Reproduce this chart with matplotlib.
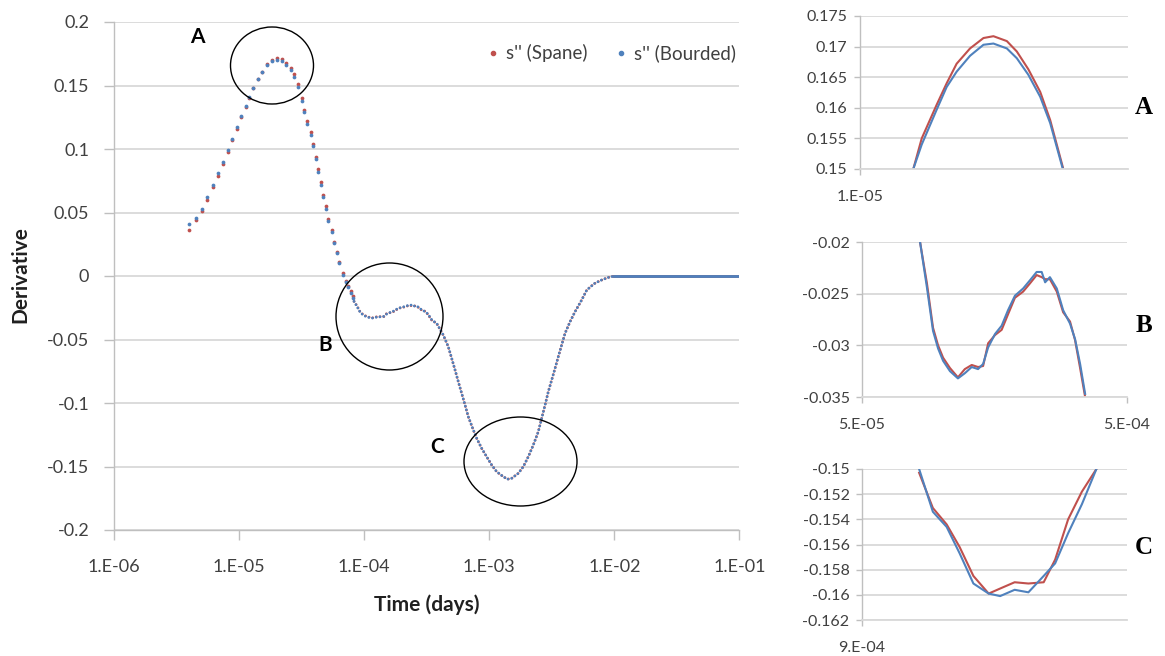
import matplotlib
matplotlib.use("Agg")
import matplotlib.pyplot as plt
from matplotlib.patches import Ellipse
from matplotlib.lines import Line2D
from matplotlib.ticker import FixedLocator, NullLocator

plt.rcParams['font.family'] = ['Lato', 'DejaVu Sans']

RED = '#C0504D'
BLUE = '#4F81BD'
GRID = '#D9D9D9'
AXIS = '#BFBFBF'
TEXT = '#404040'

# ---- main chart data (time given as log10 of days) ----
# early part: separate samples, drawn as dots
early_logt = [-5.40, -5.35, -5.30, -5.26, -5.21, -5.17, -5.13, -5.09, -5.06, -5.02,
              -4.99, -4.95, -4.92, -4.89, -4.85, -4.82, -4.78, -4.74, -4.70, -4.66,
              -4.63, -4.59, -4.56, -4.53, -4.50, -4.48, -4.46, -4.43, -4.41, -4.39,
              -4.37, -4.35, -4.33, -4.31, -4.29, -4.26, -4.24, -4.22, -4.20, -4.17,
              -4.15, -4.13, -4.11, -4.09]
early_bourdet = [0.041, 0.046, 0.053, 0.062, 0.072, 0.081, 0.090, 0.099, 0.108, 0.117,
                 0.126, 0.134, 0.141, 0.148, 0.155, 0.161, 0.166, 0.169, 0.170, 0.169,
                 0.166, 0.162, 0.157, 0.149, 0.138, 0.129, 0.120, 0.111, 0.102, 0.092,
                 0.082, 0.072, 0.062, 0.053, 0.043, 0.035, 0.026, 0.018, 0.010, 0.001,
                 -0.005, -0.009, -0.013, -0.017]
early_spane = [0.036, 0.044, 0.051, 0.060, 0.070, 0.079, 0.088, 0.098, 0.107, 0.116,
               0.125, 0.133, 0.140, 0.148, 0.155, 0.161, 0.167, 0.170, 0.172, 0.171,
               0.168, 0.164, 0.159, 0.151, 0.140, 0.131, 0.122, 0.113, 0.104, 0.094,
               0.084, 0.074, 0.064, 0.055, 0.045, 0.036, 0.027, 0.019, 0.011, 0.002,
               -0.004, -0.008, -0.012, -0.016]

# zone B (also used for the B inset)
b_logt = [-4.082, -4.056, -4.033, -4.014, -3.995, -3.969, -3.939, -3.913, -3.887, -3.863,
          -3.844, -3.825, -3.799, -3.774, -3.750, -3.724, -3.693, -3.667, -3.642, -3.623,
          -3.610, -3.592, -3.566, -3.542, -3.516, -3.497, -3.478, -3.459]
b_bourdet = [-0.0200, -0.0244, -0.0286, -0.0303, -0.0315, -0.0325, -0.0332, -0.0327, -0.0321, -0.0323,
             -0.0318, -0.0302, -0.0289, -0.0281, -0.0266, -0.0252, -0.0245, -0.0237, -0.0229, -0.0229,
             -0.0239, -0.0234, -0.0245, -0.0266, -0.0279, -0.0294, -0.0318, -0.0347]
b_spane = [-0.0200, -0.0240, -0.0283, -0.0300, -0.0312, -0.0322, -0.0331, -0.0323, -0.0319, -0.0321,
           -0.0320, -0.0298, -0.0290, -0.0285, -0.0270, -0.0254, -0.0248, -0.0240, -0.0232, -0.0234,
           -0.0236, -0.0236, -0.0248, -0.0268, -0.0277, -0.0295, -0.0322, -0.0350]

# descent to C and recovery (both methods overlap here)
mid_logt = [-3.421, -3.368, -3.328, -3.301, -3.274, -3.248, -3.221, -3.194, -3.168, -3.133,
            -3.101, -3.061, -3.021, -2.981, -2.941, -2.888, -2.855, -2.821, -2.768, -2.728,
            -2.688, -2.648, -2.608, -2.581, -2.554, -2.528, -2.501, -2.474, -2.448, -2.421,
            -2.394, -2.354, -2.314, -2.261, -2.220, -2.160, -2.110, -2.050, -2.000]
mid_value = [-0.0373, -0.0465, -0.0557, -0.0648, -0.0740, -0.0832, -0.0924, -0.1016, -0.1108, -0.1199,
             -0.1278, -0.1357, -0.1423, -0.1488, -0.1541, -0.1580, -0.1600, -0.1593, -0.1554, -0.1501,
             -0.1423, -0.1331, -0.1226, -0.1121, -0.1016, -0.0911, -0.0819, -0.0727, -0.0635, -0.0543,
             -0.0451, -0.0360, -0.0281, -0.0189, -0.0110, -0.0060, -0.0035, -0.0012, 0.0]

# late time: flat at zero
tail_logt = [-2.0, -1.9, -1.8, -1.7, -1.6, -1.5, -1.4, -1.3, -1.2, -1.1, -1.0]
tail_value = [0.0, 0.0, 0.0, 0.0, 0.0, 0.0, 0.0, 0.0, 0.0, 0.0, 0.0]

main_xticks = [1e-6, 1e-5, 1e-4, 1e-3, 1e-2, 1e-1]
main_xlabels = ['1.E-06', '1.E-05', '1.E-04', '1.E-03', '1.E-02', '1.E-01']
main_yticks = [-0.2, -0.15, -0.1, -0.05, 0, 0.05, 0.1, 0.15, 0.2]
main_ylabels = ['-0.2', '-0.15', '-0.1', '-0.05', '0', '0.05', '0.1', '0.15', '0.2']

# ---- zoom panels ----
a_logt = [-4.861, -4.839, -4.800, -4.774, -4.748, -4.713, -4.678, -4.652, -4.617, -4.591,
          -4.561, -4.530, -4.504, -4.471]
a_bourdet = [0.1500, 0.1540, 0.1597, 0.1634, 0.1659, 0.1685, 0.1703, 0.1705, 0.1697, 0.1681,
             0.1654, 0.1618, 0.1575, 0.1500]
a_spane = [0.1500, 0.1550, 0.1605, 0.1640, 0.1672, 0.1697, 0.1714, 0.1717, 0.1709, 0.1692,
           0.1663, 0.1626, 0.1580, 0.1503]

c_logt = [-2.971, -2.953, -2.935, -2.918, -2.900, -2.880, -2.865, -2.846, -2.828, -2.808,
          -2.793, -2.776, -2.758, -2.739]
c_bourdet = [-0.1500, -0.1534, -0.1546, -0.1567, -0.1591, -0.1599, -0.1601, -0.1596, -0.1598, -0.1585,
             -0.1575, -0.1551, -0.1528, -0.1500]
c_spane = [-0.1503, -0.1531, -0.1544, -0.1562, -0.1585, -0.1599, -0.1595, -0.1590, -0.1591, -0.1590,
           -0.1572, -0.1540, -0.1518, -0.1500]

a_yticks = [0.15, 0.155, 0.16, 0.165, 0.17, 0.175]
a_ylabels = ['0.15', '0.155', '0.16', '0.165', '0.17', '0.175']
b_yticks = [-0.035, -0.03, -0.025, -0.02]
b_ylabels = ['-0.035', '-0.03', '-0.025', '-0.02']
c_yticks = [-0.162, -0.16, -0.158, -0.156, -0.154, -0.152, -0.15]
c_ylabels = ['-0.162', '-0.16', '-0.158', '-0.156', '-0.154', '-0.152', '-0.15']


def days(logt):
    return [10 ** v for v in logt]


def style_axes(ax, tick_len, label_size, xpad, ypad):
    ax.set_xscale('log')
    ax.xaxis.set_minor_locator(NullLocator())
    ax.yaxis.grid(True, color=GRID, lw=1.3)
    ax.set_axisbelow(True)
    for side in ('top', 'right'):
        ax.spines[side].set_visible(False)
    for side in ('left', 'bottom'):
        ax.spines[side].set_color(AXIS)
        ax.spines[side].set_linewidth(1.0)
    ax.tick_params(axis='x', direction='out', length=tick_len, width=1, color=AXIS,
                   labelsize=label_size, labelcolor=TEXT, pad=xpad)
    ax.tick_params(axis='y', direction='out', length=tick_len, width=1, color=AXIS,
                   labelsize=label_size, labelcolor=TEXT, pad=ypad)


fig = plt.figure(figsize=(11.65, 6.56), dpi=100)
W, H = 1165.0, 656.0

# main chart
ax = fig.add_axes([114.3 / W, 126 / H, 625 / W, 508 / H])
dot_style = dict(ls='none', marker='o', ms=2.7, mew=0)
dense_style = dict(lw=2.0, ls=(0, (0.01, 1.35)), dash_capstyle='round')

for color, early, b_vals in ((RED, early_spane, b_spane), (BLUE, early_bourdet, b_bourdet)):
    ax.plot(days(early_logt), early, color=color, **dot_style)
    ax.plot(days(b_logt + mid_logt), b_vals + mid_value, color=color, **dense_style)
    ax.plot(days(tail_logt), tail_value, color=color, lw=2.0)

ax.set_xlim(1e-6, 1e-1)
ax.set_ylim(-0.2, 0.2)
style_axes(ax, 7, 13, 14, 11)
ax.xaxis.set_major_locator(FixedLocator(main_xticks))
ax.set_xticklabels(main_xlabels)
ax.set_yticks(main_yticks)
ax.set_yticklabels(main_ylabels)

fig.text(20 / W, 1 - 275 / H, 'Derivative', rotation=90, ha='center', va='center',
         fontsize=15, fontweight='bold', color='#202020')
fig.text(427 / W, 1 - 605 / H, 'Time (days)', ha='center', va='center',
         fontsize=15, fontweight='bold', color='#202020')

handles = [Line2D([], [], color=RED, marker='o', ms=3, ls='none'),
           Line2D([], [], color=BLUE, marker='o', ms=3, ls='none')]
ax.legend(handles, ["s'' (Spane)", "s'' (Bourded)"], loc='upper right',
          bbox_to_anchor=(0.995, 0.956), ncol=2, frameon=False, fontsize=13.5,
          handlelength=0.6, handletextpad=0.4, columnspacing=1.5,
          borderpad=0, borderaxespad=0, labelcolor=TEXT)

# circles and letters on the main chart
for cx, cy, w, h in ((272, 65.5, 83, 77), (389.5, 316.5, 107, 107), (520.5, 461.5, 113, 89)):
    fig.add_artist(Ellipse((cx / W, 1 - cy / H), w / W, h / H, transform=fig.transFigure,
                           fill=False, ec='black', lw=1.0))
for x, y, s in ((197, 37, 'A'), (325, 345, 'B'), (437, 447, 'C')):
    fig.text(x / W, 1 - y / H, s, ha='center', va='center', fontsize=15,
             fontweight='bold', color='black')

# zoom panels
panels = [
    ([860, 16, 268, 153], a_logt, a_spane, a_bourdet, (1e-5, 5e-5), (0.15, 0.175),
     [1e-5], ['1.E-05'], a_yticks, a_ylabels, 'A', 107),
    ([862, 242, 265, 155], b_logt, b_spane, b_bourdet, (5e-5, 5e-4), (-0.035, -0.02),
     [5e-5, 5e-4], ['5.E-05', '5.E-04'], b_yticks, b_ylabels, 'B', 326),
    ([862, 469, 265, 151], c_logt, c_spane, c_bourdet, (9e-4, 2e-3), (-0.162, -0.15),
     [9e-4], ['9.E-04'], c_yticks, c_ylabels, 'C', 547),
]
for box, logt, spane, bourdet, xlim, ylim, xt, xl, yt, yl, letter, ly in panels:
    left, top, w, h = box
    pax = fig.add_axes([left / W, 1 - (top + h) / H, w / W, h / H])
    pax.plot(days(logt), spane, color=RED, lw=1.5)
    pax.plot(days(logt), bourdet, color=BLUE, lw=1.5)
    pax.set_xlim(*xlim)
    pax.set_ylim(*ylim)
    style_axes(pax, 4, 11.5, 11, 5)
    pax.spines['bottom'].set_color(GRID)
    pax.spines['bottom'].set_linewidth(1.3)
    pax.xaxis.set_major_locator(FixedLocator(xt))
    pax.set_xticklabels(xl)
    pax.set_yticks(yt)
    pax.set_yticklabels(yl)
    fig.text(1144 / W, 1 - ly / H, letter, ha='center', va='center', fontsize=18,
             fontweight='bold', family='Liberation Serif', color='black')

fig.savefig('out.png', dpi=100)
